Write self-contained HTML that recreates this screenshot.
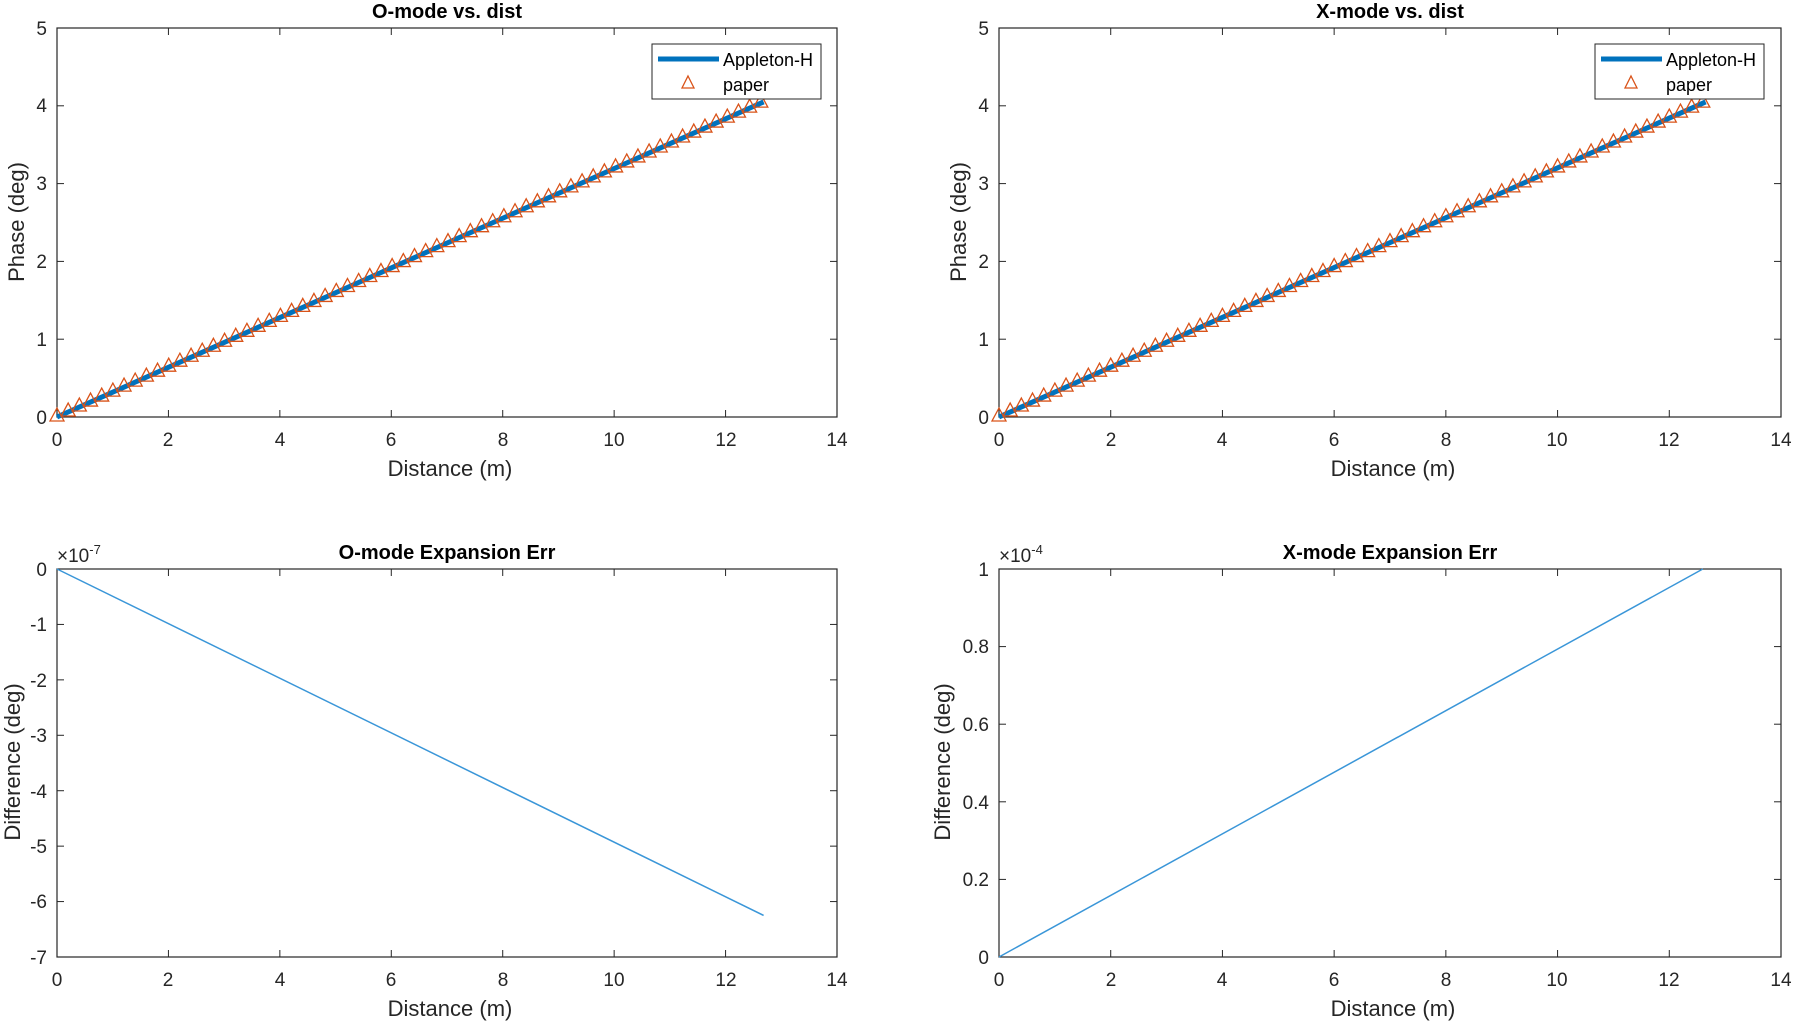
<!DOCTYPE html>
<html><head><meta charset="utf-8"><style>
html,body{margin:0;padding:0;background:#fff;}
svg{display:block;font-family:"Liberation Sans",sans-serif;}
.t{font-size:19px;fill:#262626;}
.l{font-size:22px;fill:#262626;}
.ti{font-size:20px;font-weight:bold;fill:#000;}
</style></head><body>
<svg id="s" width="1793" height="1022" viewBox="0 0 1793 1022" xmlns="http://www.w3.org/2000/svg">
<rect width="1793" height="1022" fill="#fff"/>
<text class="ti" x="447" y="18" text-anchor="middle">O-mode vs. dist</text>
<text class="ti" x="1390" y="18" text-anchor="middle">X-mode vs. dist</text>
<text class="ti" x="447" y="559" text-anchor="middle">O-mode Expansion Err</text>
<text class="ti" x="1390" y="559" text-anchor="middle">X-mode Expansion Err</text>
<text class="l" x="450" y="476" text-anchor="middle">Distance (m)</text>
<text class="l" x="1393" y="476" text-anchor="middle">Distance (m)</text>
<text class="l" x="450" y="1016" text-anchor="middle">Distance (m)</text>
<text class="l" x="1393" y="1016" text-anchor="middle">Distance (m)</text>
<text class="l" transform="translate(24,222) rotate(-90)" text-anchor="middle">Phase (deg)</text>
<text class="l" transform="translate(966,222) rotate(-90)" text-anchor="middle">Phase (deg)</text>
<text class="l" transform="translate(20,762) rotate(-90)" text-anchor="middle">Difference (deg)</text>
<text class="l" transform="translate(950,762) rotate(-90)" text-anchor="middle">Difference (deg)</text>
<g class="t" text-anchor="middle">
<text x="57" y="446">0</text><text x="168" y="446">2</text><text x="280" y="446">4</text><text x="391" y="446">6</text><text x="503" y="446">8</text><text x="614" y="446">10</text><text x="726" y="446">12</text><text x="837" y="446">14</text>
<text x="999" y="446">0</text><text x="1111" y="446">2</text><text x="1222" y="446">4</text><text x="1334" y="446">6</text><text x="1446" y="446">8</text><text x="1557" y="446">10</text><text x="1669" y="446">12</text><text x="1781" y="446">14</text>
<text x="57" y="986">0</text><text x="168" y="986">2</text><text x="280" y="986">4</text><text x="391" y="986">6</text><text x="503" y="986">8</text><text x="614" y="986">10</text><text x="726" y="986">12</text><text x="837" y="986">14</text>
<text x="999" y="986">0</text><text x="1111" y="986">2</text><text x="1222" y="986">4</text><text x="1334" y="986">6</text><text x="1446" y="986">8</text><text x="1557" y="986">10</text><text x="1669" y="986">12</text><text x="1781" y="986">14</text>
</g>
<g class="t" text-anchor="end">
<text x="47" y="424">0</text><text x="47" y="346">1</text><text x="47" y="268">2</text><text x="47" y="190">3</text><text x="47" y="112">4</text><text x="47" y="35">5</text>
<text x="989" y="424">0</text><text x="989" y="346">1</text><text x="989" y="268">2</text><text x="989" y="190">3</text><text x="989" y="112">4</text><text x="989" y="35">5</text>
<text x="47" y="576">0</text><text x="47" y="631">-1</text><text x="47" y="687">-2</text><text x="47" y="742">-3</text><text x="47" y="798">-4</text><text x="47" y="853">-5</text><text x="47" y="908">-6</text><text x="47" y="964">-7</text>
<text x="989" y="576">1</text><text x="989" y="653">0.8</text><text x="989" y="731">0.6</text><text x="989" y="809">0.4</text><text x="989" y="886">0.2</text><text x="989" y="964">0</text>
</g>
<text class="t" x="57" y="562" fill="#555">×10<tspan font-size="13" dy="-8">-7</tspan></text>
<text class="t" x="999" y="562" fill="#555">×10<tspan font-size="13" dy="-8">-4</tspan></text>
<g id="g"></g>
<g>
<rect x="652" y="44" width="169" height="55" fill="#fff" stroke="#262626" stroke-width="1"/>
<line x1="658" y1="59" x2="719" y2="59" stroke="#0072BD" stroke-width="5"/>
<path d="M688,76 L694,88 L682,88 Z" fill="none" stroke="#D95319" stroke-width="1.3"/>
<text x="723" y="66" font-size="18" fill="#000">Appleton-H</text>
<text x="723" y="91" font-size="18" fill="#000">paper</text>
<rect x="1595" y="44" width="169" height="55" fill="#fff" stroke="#262626" stroke-width="1"/>
<line x1="1601" y1="59" x2="1662" y2="59" stroke="#0072BD" stroke-width="5"/>
<path d="M1631,76 L1637,88 L1625,88 Z" fill="none" stroke="#D95319" stroke-width="1.3"/>
<text x="1666" y="66" font-size="18" fill="#000">Appleton-H</text>
<text x="1666" y="91" font-size="18" fill="#000">paper</text>
</g>
</svg>
<script>
(function(){
var g=document.getElementById('g'),NS='http://www.w3.org/2000/svg';
function el(tag,attrs){var e=document.createElementNS(NS,tag);for(var k in attrs)e.setAttribute(k,attrs[k]);g.appendChild(e);}
function ln(x1,y1,x2,y2,c,w){el('line',{x1:x1,y1:y1,x2:x2,y2:y2,stroke:c,'stroke-width':w});}
function drawAx(L,T,R,B,nx,ny){
 el('rect',{x:L,y:T,width:R-L,height:B-T,fill:'none',stroke:'#262626','stroke-width':1.2});
 for(var i=0;i<=nx;i++){var x=L+(R-L)*i/nx;ln(x,B,x,B-7,'#262626',1);ln(x,T,x,T+7,'#262626',1);}
 for(var j=0;j<=ny;j++){var y=T+(B-T)*j/ny;ln(L,y,L+7,y,'#262626',1);ln(R,y,R-7,y,'#262626',1);}
}
function panelTop(L){
 var sx=782/14, sy=389/5, x1=L+12.65*sx, y1=417-4.05*sy;
 ln(L,417,x1,y1,'#0072BD',5);
 for(var v=0;v<=12.66;v+=0.2){var x=L+v*sx,y=417-v*4.05/12.65*sy-1;
  el('path',{d:'M'+x+','+(y-8)+' L'+(x+7)+','+(y+5)+' L'+(x-7)+','+(y+5)+' Z',fill:'none',stroke:'#D95319','stroke-width':1.3});}
}
drawAx(57,28,837,417,7,5);drawAx(999,28,1781,417,7,5);
drawAx(57,569,837,957,7,7);drawAx(999,569,1781,957,7,5);
panelTop(57);panelTop(999);
ln(57,569,57+12.65*782/14,569+6.25*388/7,'#3a96d8',1.5);
ln(999,957,999+12.6*782/14,569,'#3a96d8',1.5);
})();
</script>
</body></html>
